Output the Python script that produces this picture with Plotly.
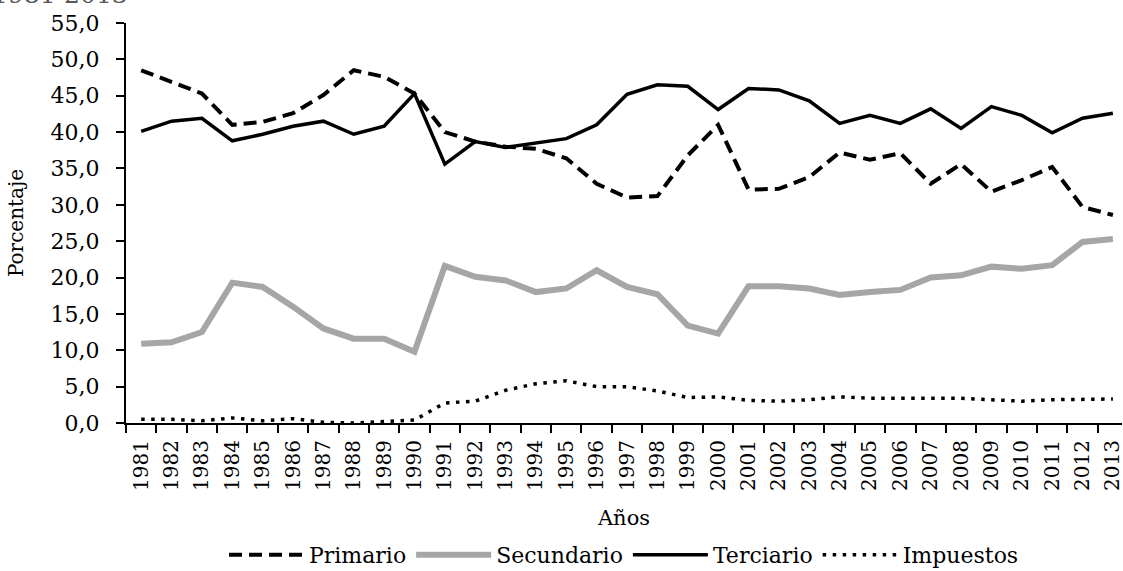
import plotly.graph_objects as go

years = [str(y) for y in range(1981, 2014)]

primario = [48.5, 46.9, 45.3, 41.0, 41.4, 42.6, 45.1, 48.5, 47.6, 45.3,
            40.0, 38.7, 38.0, 37.7, 36.4, 32.9, 31.0, 31.2, 36.8, 41.0,
            32.1, 32.2, 33.8, 37.2, 36.2, 37.1, 32.9, 35.6, 31.8, 33.4,
            35.2, 29.7, 28.6]
secundario = [10.9, 11.1, 12.5, 19.3, 18.7, 16.0, 13.0, 11.6, 11.6, 9.8,
              21.6, 20.1, 19.6, 18.0, 18.5, 21.0, 18.7, 17.7, 13.4, 12.3,
              18.8, 18.8, 18.5, 17.6, 18.0, 18.3, 20.0, 20.3, 21.5, 21.2,
              21.7, 24.9, 25.3]
terciario = [40.1, 41.5, 41.9, 38.8, 39.7, 40.8, 41.5, 39.7, 40.8, 45.3,
             35.6, 38.7, 37.9, 38.5, 39.1, 41.0, 45.2, 46.5, 46.3, 43.1,
             46.0, 45.8, 44.3, 41.2, 42.3, 41.2, 43.2, 40.5, 43.5, 42.3,
             39.9, 41.9, 42.6]
impuestos = [0.5, 0.5, 0.3, 0.7, 0.3, 0.6, 0.1, 0.0, 0.2, 0.4,
             2.75, 3.0, 4.5, 5.4, 5.8, 5.0, 5.0, 4.4, 3.5, 3.6,
             3.1, 3.0, 3.2, 3.6, 3.4, 3.4, 3.4, 3.4, 3.2, 3.0,
             3.2, 3.2, 3.3]

y_ticks = list(range(0, 56, 5))
y_ticklabels = [f"{v},0" for v in y_ticks]

FONT = "DejaVu Serif"

fig = go.Figure()
fig.add_trace(go.Scatter(x=years, y=primario, name="Primario", mode="lines",
                         line=dict(color="black", width=4, dash="13px,7px")))
fig.add_trace(go.Scatter(x=years, y=secundario, name="Secundario", mode="lines",
                         line=dict(color="#A6A6A6", width=6)))
fig.add_trace(go.Scatter(x=years, y=terciario, name="Terciario", mode="lines",
                         line=dict(color="black", width=3.5)))
fig.add_trace(go.Scatter(x=years, y=impuestos, name="Impuestos", mode="lines",
                         line=dict(color="black", width=3.5, dash="3.5px,6.5px")))

fig.update_layout(
    width=1123, height=571,
    margin=dict(l=126, r=1, t=23, b=148, autoexpand=False),
    paper_bgcolor="white", plot_bgcolor="white",
    font=dict(family=FONT, size=20, color="black"),
    showlegend=True,
    legend=dict(orientation="h", x=0.5, xanchor="center", y=-0.33, yanchor="middle",
                yref="paper", font=dict(size=22), itemwidth=75, tracegroupgap=0,
                bgcolor="rgba(0,0,0,0)"),
    xaxis=dict(type="category", tickson="boundaries", ticks="outside", ticklen=8,
               tickwidth=1.5, tickcolor="black", showline=True, linecolor="black",
               linewidth=2, showgrid=False, tickangle=-90, automargin=False,
               tickfont=dict(size=20), ticklabelstandoff=7,
               title=dict(text="Años", font=dict(size=21), standoff=20),
               range=[-0.5, 32.3]),
    yaxis=dict(range=[0, 55], tickvals=y_ticks, ticktext=y_ticklabels,
               ticks="outside", ticklen=8, tickwidth=1.5, tickcolor="black",
               showline=True, linecolor="black", linewidth=2, showgrid=False,
               zeroline=False, tickfont=dict(size=22), ticklabelstandoff=12,
               automargin=False,
               title=dict(text="Porcentaje", font=dict(size=20), standoff=22)),
)

fig.add_annotation(text="1981-2013", xref="paper", yref="paper", x=-0.137, y=1.03,
                   xanchor="left", yanchor="bottom", showarrow=False,
                   font=dict(size=25, color="#595959", family=FONT))

fig.write_html("out.html", config={"displayModeBar": False},
               post_script="document.body.style.margin='0';document.body.style.overflow='hidden';")
